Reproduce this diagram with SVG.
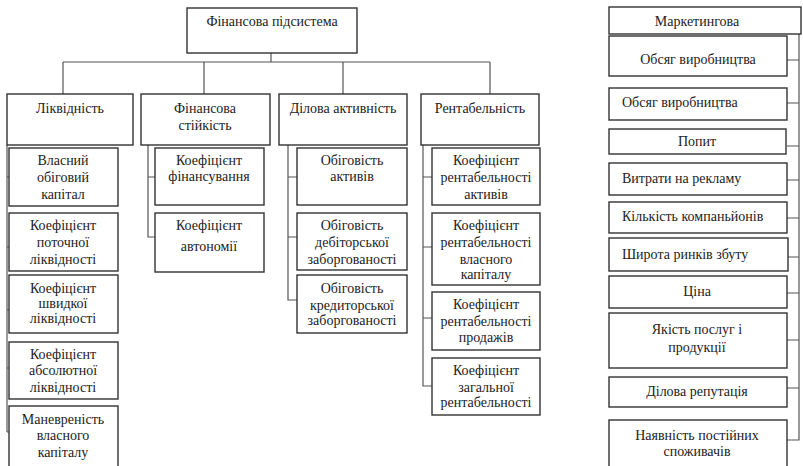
<svg xmlns="http://www.w3.org/2000/svg" width="803" height="466" viewBox="0 0 803 466">
<style>
.b{fill:#fff;stroke:#333;stroke-width:1.4}
text{font-family:"Liberation Serif","DejaVu Serif",serif;font-size:14px;fill:#222;text-anchor:middle}
text.l{text-anchor:start}
.c{fill:none;stroke:#555;stroke-width:1.2}
</style>
<rect width="803" height="466" fill="#fff"/>
<g id="connectors">
<path class="c" d="M271 53V62M63 62H490M63 62V94M204 62V94M343 62V94M490 62V94"/>
<path class="c" d="M7 145V432M7 177H9M7 247H9M7 310H9M7 368H9M7 432H9"/>
<path class="c" d="M148 145V237H155M148 177H155"/>
<path class="c" d="M288 145V300H297M288 177H297M288 237H297"/>
<path class="c" d="M423 145V386H432M423 177H432M423 247H432M423 318H432"/>
<path class="c" d="M799 34V440H787M787 60H799M787 103H799M787 146H799M787 180H799M787 218H799M787 257H799M787 293H799M787 340H799M787 388H799"/>
</g>
<g id="n-fin"><rect class="b" x="187" y="8" width="170" height="45"/><text x="272" y="26">Фінансова підсистема</text></g>
<g id="n-liq"><rect class="b" x="7" y="94" width="126" height="51"/><text x="70" y="113">Ліквідність</text></g>
<g id="n-stab"><rect class="b" x="141" y="94" width="129" height="51"/><text x="205" y="113">Фінансова</text><text x="205" y="130">стійкість</text></g>
<g id="n-act"><rect class="b" x="279" y="94" width="128" height="51"/><text x="343" y="113">Ділова активність</text></g>
<g id="n-rent"><rect class="b" x="421" y="94" width="118" height="51"/><text x="480" y="113">Рентабельність</text></g>

<g id="n-l1"><rect class="b" x="9" y="148" width="109" height="58"/><text x="63" y="165">Власний</text><text x="63" y="182">обіговий</text><text x="63" y="199">капітал</text></g>
<g id="n-l2"><rect class="b" x="9" y="213" width="109" height="58"/><text x="63" y="230">Коефіцієнт</text><text x="63" y="247">поточної</text><text x="63" y="264">ліквідності</text></g>
<g id="n-l3"><rect class="b" x="9" y="275" width="109" height="58"/><text x="63" y="293">Коефіцієнт</text><text x="63" y="308">швидкої</text><text x="63" y="323">ліквідності</text></g>
<g id="n-l4"><rect class="b" x="9" y="342" width="109" height="57"/><text x="63" y="359">Коефіцієнт</text><text x="63" y="375">абсолютної</text><text x="63" y="392">ліквідності</text></g>
<g id="n-l5"><rect class="b" x="9" y="406" width="109" height="66"/><text x="63" y="424">Маневреність</text><text x="63" y="440">власного</text><text x="63" y="457">капіталу</text></g>

<g id="n-s1"><rect class="b" x="155" y="148" width="109" height="57"/><text x="209" y="165">Коефіцієнт</text><text x="209" y="181">фінансування</text></g>
<g id="n-s2"><rect class="b" x="155" y="213" width="109" height="59"/><text x="209" y="230">Коефіцієнт</text><text x="209" y="251">автономії</text></g>

<g id="n-a1"><rect class="b" x="297" y="148" width="110" height="57"/><text x="352" y="165">Обіговість</text><text x="352" y="181">активів</text></g>
<g id="n-a2"><rect class="b" x="297" y="213" width="110" height="57"/><text x="352" y="230">Обіговість</text><text x="352" y="247">дебіторської</text><text x="352" y="264">заборгованості</text></g>
<g id="n-a3"><rect class="b" x="297" y="275" width="110" height="58"/><text x="352" y="293">Обіговість</text><text x="352" y="310">кредиторської</text><text x="352" y="325">заборгованості</text></g>

<g id="n-r1"><rect class="b" x="432" y="148" width="108" height="57"/><text x="486" y="165">Коефіцієнт</text><text x="486" y="182">рентабельності</text><text x="486" y="199">активів</text></g>
<g id="n-r2"><rect class="b" x="432" y="213" width="108" height="72"/><text x="486" y="230">Коефіцієнт</text><text x="486" y="247">рентабельності</text><text x="486" y="264">власного</text><text x="486" y="279">капіталу</text></g>
<g id="n-r3"><rect class="b" x="432" y="292" width="108" height="58"/><text x="486" y="309">Коефіцієнт</text><text x="486" y="326">рентабельності</text><text x="486" y="342">продажів</text></g>
<g id="n-r4"><rect class="b" x="432" y="358" width="108" height="57"/><text x="486" y="375">Коефіцієнт</text><text x="486" y="392">загальної</text><text x="486" y="407">рентабельності</text></g>

<g id="n-mkt"><rect class="b" x="609" y="7" width="192" height="27"/><text x="697" y="26">Маркетингова</text></g>
<g id="n-m1"><rect class="b" x="609" y="36" width="178" height="40"/><text x="698" y="64">Обсяг виробництва</text></g>
<g id="n-m2"><rect class="b" x="609" y="88" width="178" height="32"/><text class="l" x="622" y="107">Обсяг виробництва</text></g>
<g id="n-m3"><rect class="b" x="609" y="129" width="177" height="25"/><text x="697" y="146">Попит</text></g>
<g id="n-m4"><rect class="b" x="609" y="163" width="178" height="32"/><text class="l" x="622" y="183">Витрати на рекламу</text></g>
<g id="n-m5"><rect class="b" x="609" y="202" width="178" height="31"/><text class="l" x="622" y="221">Кількість компаньйонів</text></g>
<g id="n-m6"><rect class="b" x="609" y="238" width="179" height="33"/><text class="l" x="622" y="259">Широта ринків збуту</text></g>
<g id="n-m7"><rect class="b" x="609" y="276" width="178" height="32"/><text x="697" y="296">Ціна</text></g>
<g id="n-m8"><rect class="b" x="609" y="313" width="178" height="55"/><text x="697" y="334">Якість послуг і</text><text x="697" y="352">продукції</text></g>
<g id="n-m9"><rect class="b" x="609" y="377" width="178" height="30"/><text x="697" y="396">Ділова репутація</text></g>
<g id="n-m10"><rect class="b" x="609" y="420" width="178" height="52"/><text x="697" y="440">Наявність постійних</text><text x="697" y="456">споживачів</text></g>
</svg>
